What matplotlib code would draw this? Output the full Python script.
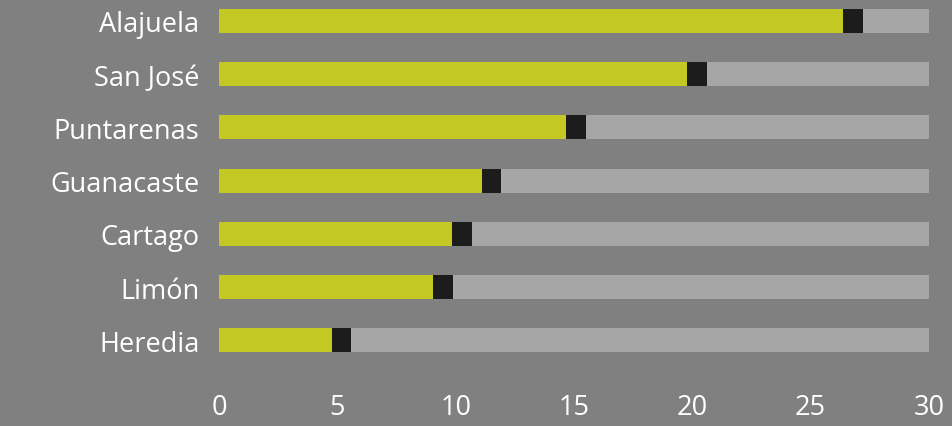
import matplotlib
matplotlib.use("Agg")
import matplotlib.pyplot as plt
import numpy as np

provinces = ["Alajuela", "San José", "Puntarenas", "Guanacaste", "Cartago", "Limón", "Heredia"]
green_vals = [26.37, 19.77, 14.66, 11.11, 9.84, 9.04, 4.77]
black_vals = [0.85, 0.85, 0.85, 0.80, 0.85, 0.85, 0.80]
total = 30
gray_vals = [total - g - b for g, b in zip(green_vals, black_vals)]
xticks = [0, 5, 10, 15, 20, 25, 30]

plt.rcParams['font.family'] = ['Open Sans', 'DejaVu Sans']

bg = "#808080"
fig = plt.figure(figsize=(9.53, 4.27), dpi=100, facecolor=bg)
ax = fig.add_axes([219/953, (427-375)/427, 710/953, 375/427])
ax.set_facecolor(bg)

y = np.arange(len(provinces))
h = 0.45
ax.barh(y, green_vals, height=h, color="#c3c823", linewidth=0)
ax.barh(y, black_vals, left=green_vals, height=h, color="#1c1c1c", linewidth=0)
left2 = [g + b for g, b in zip(green_vals, black_vals)]
ax.barh(y, gray_vals, left=left2, height=h, color="#a6a6a6", linewidth=0)

ax.set_xlim(0, 30)
ax.set_ylim(6.635, -0.4135)
ax.set_yticks(y)
ax.set_yticklabels(provinces, fontsize=19.5, color="white")
ax.set_xticks(xticks)
ax.set_xticklabels([str(t) for t in xticks], fontsize=19.5, color="white")
ax.tick_params(axis="y", length=0, pad=14)
ax.tick_params(axis="x", length=0, pad=14)
for s in ax.spines.values():
    s.set_visible(False)

fig.savefig("out.png", dpi=100, facecolor=bg)
